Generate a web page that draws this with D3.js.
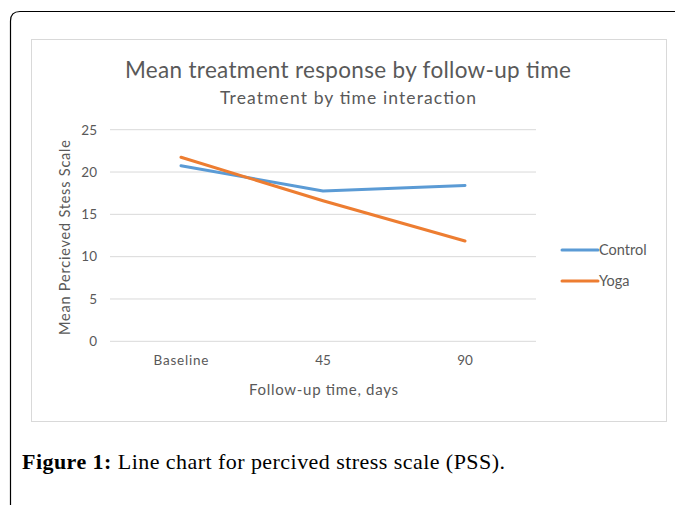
<!DOCTYPE html>
<html><head><meta charset="utf-8">
<script src="https://cdn.jsdelivr.net/npm/d3@7"></script>
<style>body{margin:0;background:#fff;}svg{display:block;}</style>
</head><body>
<script>
const categories = ["Baseline", "45", "90"];
const seriesNames = ["Control", "Yoga"];
const controlValues = [20.75, 17.75, 18.4];
const yogaValues = [21.75, 16.6, 11.85];
const yTicks = [0, 5, 10, 15, 20, 25];
const colors = ["#5B9BD5", "#ED7D31"];

const W = 675, H = 505;
const svg = d3.select("body").append("svg").attr("width", W).attr("height", H);
const chartFont = "Lato, 'Open Sans', sans-serif";
const grey = "#595959";

// outer frame
svg.append("path").attr("d", "M10.5,505 L10.5,21 Q10.5,11.5 20,11.5 L675,11.5")
  .attr("fill", "none").attr("stroke", "#000").attr("stroke-width", 1.2);
// inner chart box
svg.append("rect").attr("x", 31.5).attr("y", 39.5).attr("width", 635).attr("height", 382)
  .attr("fill", "#fff").attr("stroke", "#D9D9D9");

const x = d3.scaleBand().domain(categories).range([110, 536]);
const y = d3.scaleLinear().domain([0, 25]).range([341.3, 129.7]);

// gridlines
svg.append("g").selectAll("line").data(yTicks).join("line")
  .attr("x1", 110).attr("x2", 536)
  .attr("y1", d => y(d)).attr("y2", d => y(d))
  .attr("stroke", "#D9D9D9").attr("stroke-width", 1);

// y axis
const yAxis = svg.append("g").attr("transform", "translate(110,0)")
  .call(d3.axisLeft(y).tickValues(yTicks).tickSize(0).tickPadding(13));
yAxis.select(".domain").remove();
yAxis.selectAll("text").attr("fill", grey).style("font-family", chartFont).style("font-size", "13.5px");

// x axis
const xAxis = svg.append("g").attr("transform", "translate(0,341.3)")
  .call(d3.axisBottom(x).tickSize(0).tickPadding(14));
xAxis.select(".domain").remove();
xAxis.selectAll("text").attr("fill", grey).style("font-family", chartFont).style("font-size", "13.5px")
  .each(function(d) { if (d === "Baseline") d3.select(this).attr("textLength", 55).attr("lengthAdjust", "spacing"); });

// lines
const series = [controlValues, yogaValues];
const line = d3.line().x((d, i) => x(categories[i]) + x.bandwidth() / 2).y(d => y(d));
series.forEach((vals, i) => {
  svg.append("path").datum(vals).attr("d", line)
    .attr("fill", "none").attr("stroke", colors[i]).attr("stroke-width", 3)
    .attr("stroke-linecap", "round").attr("stroke-linejoin", "round");
});

// titles
svg.append("text").attr("x", 348).attr("y", 78).attr("text-anchor", "middle")
  .attr("fill", grey).style("font-family", chartFont).style("font-size", "22.5px")
  .attr("textLength", 446).attr("lengthAdjust", "spacing")
  .text("Mean treatment response by follow-up time");
svg.append("text").attr("x", 348).attr("y", 104).attr("text-anchor", "middle")
  .attr("fill", grey).style("font-family", chartFont).style("font-size", "17.5px")
  .attr("textLength", 256).attr("lengthAdjust", "spacing")
  .text("Treatment by time interaction");

// axis titles
svg.append("text").attr("transform", "translate(70,237.5) rotate(-90)").attr("text-anchor", "middle")
  .attr("fill", grey).style("font-family", chartFont).style("font-size", "14.5px")
  .attr("textLength", 195).attr("lengthAdjust", "spacing")
  .text("Mean Percieved Stess Scale");
svg.append("text").attr("x", 323.5).attr("y", 395).attr("text-anchor", "middle")
  .attr("fill", grey).style("font-family", chartFont).style("font-size", "15px")
  .attr("textLength", 149).attr("lengthAdjust", "spacing")
  .text("Follow-up time, days");

// legend
const legY = [250, 281];
seriesNames.forEach((n, i) => {
  svg.append("line").attr("x1", 562).attr("x2", 598).attr("y1", legY[i]).attr("y2", legY[i])
    .attr("stroke", colors[i]).attr("stroke-width", 3).attr("stroke-linecap", "round");
  svg.append("text").attr("x", 599).attr("y", legY[i] + 5)
    .attr("fill", grey).style("font-family", chartFont).style("font-size", "14.5px").text(n);
});

// caption
const cap = svg.append("text").attr("x", 22).attr("y", 469)
  .style("font-family", "'Liberation Serif', 'DejaVu Serif', serif").style("font-size", "22px").attr("fill", "#000")
  .attr("textLength", 483).attr("lengthAdjust", "spacing");
cap.append("tspan").attr("font-weight", "bold").text("Figure 1:");
cap.append("tspan").text(" Line chart for percived stress scale (PSS).");
</script>
</body></html>
